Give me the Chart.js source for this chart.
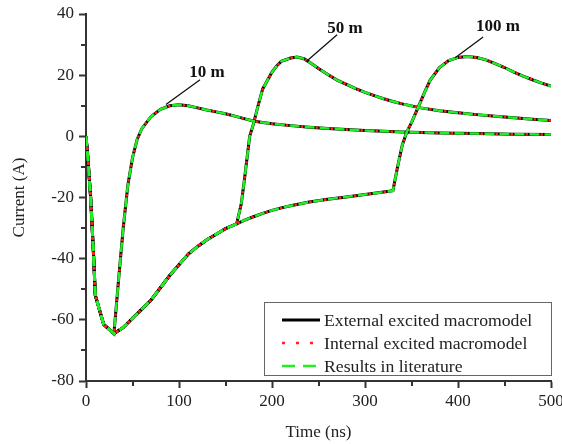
<!DOCTYPE html>
<html>
<head>
<meta charset="utf-8">
<title>Current vs time</title>
<script src="https://cdn.jsdelivr.net/npm/chart.js@4.4.0/dist/chart.umd.min.js"></script>
<style>
  html, body { margin: 0; padding: 0; background: #fff; }
  #wrap { width: 562px; height: 444px; }
</style>
</head>
<body>
<div id="wrap"><canvas id="currentChart" width="562" height="444"></canvas></div>
<script>
// Line lengths and the current waveforms (ns, A)
const time10m = [0, 2, 5, 8, 10, 19, 30, 35, 40, 45, 50, 55, 60, 70, 80, 90, 100, 110, 120, 130, 140, 150, 160, 170, 180, 190, 200, 220, 240, 260, 280, 300, 340, 380, 420, 460, 500]
const current10m = [0, -7, -20, -38, -52, -61.5, -64.5, -47, -30, -16, -7, -1, 2.5, 6.5, 8.8, 10, 10.3, 10, 9.3, 8.6, 8, 7.4, 6.6, 5.8, 5, 4.5, 4.1, 3.5, 3, 2.6, 2.2, 1.9, 1.4, 1.1, 0.9, 0.7, 0.6]

const time50m = [0, 2, 5, 8, 10, 19, 30, 40, 50, 60, 70, 80, 90, 100, 110, 120, 130, 140, 150, 162, 167, 170, 176, 180, 185, 190, 200, 205, 210, 220, 227, 235, 240, 250, 260, 270, 280, 290, 300, 310, 320, 330, 340, 360, 380, 400, 420, 440, 460, 480, 500]
const current50m = [0, -7, -20, -38, -52, -61.5, -64.5, -62.5, -59.5, -56.5, -53.5, -49.5, -45.5, -42, -38.5, -36, -33.8, -32, -30.2, -28.6, -22, -15, 0, 4, 10, 15.5, 21, 23, 24.5, 25.6, 25.9, 25.3, 24.3, 22.2, 20.2, 18.4, 17, 15.6, 14.4, 13.3, 12.3, 11.4, 10.6, 9.3, 8.4, 7.7, 7.1, 6.6, 6.1, 5.6, 5.2]

const time100m = [0, 2, 5, 8, 10, 19, 30, 40, 50, 60, 70, 80, 90, 100, 110, 120, 130, 140, 150, 162, 170, 180, 190, 200, 210, 220, 240, 260, 280, 300, 320, 330, 335, 340, 345, 350, 355, 360, 365, 370, 380, 390, 400, 410, 420, 430, 440, 450, 460, 470, 480, 490, 500]
const current100m = [0, -7, -20, -38, -52, -61.5, -64.5, -62.5, -59.5, -56.5, -53.5, -49.5, -45.5, -42, -38.5, -36, -33.8, -32, -30.2, -28.6, -27.5, -26.3, -25.2, -24.2, -23.4, -22.7, -21.5, -20.6, -19.8, -19, -18.2, -17.8, -10, -3, 1.5, 4.5, 8, 11.5, 15, 18.3, 22.5, 24.8, 25.8, 26.1, 25.8, 25, 23.8, 22.5, 21, 19.7, 18.5, 17.4, 16.4]

const seriesNames = ["External excited macromodel", "Internal excited macromodel", "Results in literature"]
const lengthLabels = ["10 m", "50 m", "100 m"]
const timeTicks = [0, 100, 200, 300, 400, 500]
const currentTicks = [-80, -60, -40, -20, 0, 20, 40]

const axisColor = "#333"
const textColor = "#222"
const serif = "'Liberation Serif', 'Times New Roman', serif"

// one style per model; the dashed green one sits on top
const styles = [
  { color: "#000000", width: 3, dash: [], offset: 0, order: 3, legendDash: [] },
  { color: "#ff2222", width: 2.5, dash: [2.5, 12.5], offset: -11, order: 2, legendDash: [3, 11] },
  { color: "#22ee22", width: 2.5, dash: [10, 5], offset: 0, order: 1, legendDash: [13, 8] },
]

const curves = [
  { t: time10m, i: current10m },
  { t: time50m, i: current50m },
  { t: time100m, i: current100m },
]

// leader-line labels, in data units
const callouts = [
  { text: lengthLabels[0], at: [130, 20.8], from: [122.6, 18.5], to: [86, 10.4] },
  { text: lengthLabels[1], at: [278.5, 35.1], from: [270, 33.2], to: [236.6, 24.4] },
  { text: lengthLabels[2], at: [443, 35.8], from: [427, 32.5], to: [397, 25.7] },
]

const datasets = []
curves.forEach((c, ci) => {
  styles.forEach((s, si) => {
    datasets.push({
      label: seriesNames[si] + " " + lengthLabels[ci],
      data: c.t.map((t, k) => ({ x: t, y: c.i[k] })),
      borderColor: s.color,
      borderWidth: s.width,
      borderDash: s.dash,
      borderDashOffset: s.offset,
      order: s.order,
      pointRadius: 0,
      tension: 0,
      fill: false,
    })
  })
})

// short ticks halfway between the labelled ones
const minorTicks = {
  id: "minorTicks",
  afterDraw(chart) {
    const { ctx, chartArea } = chart
    const x = chart.scales.x
    const y = chart.scales.y
    ctx.save()
    ctx.strokeStyle = axisColor
    ctx.lineWidth = 2
    ctx.beginPath()
    for (let k = 0; k < timeTicks.length - 1; k++) {
      const px = Math.round(x.getPixelForValue((timeTicks[k] + timeTicks[k + 1]) / 2))
      ctx.moveTo(px, chartArea.bottom)
      ctx.lineTo(px, chartArea.bottom + 5)
    }
    for (let k = 0; k < currentTicks.length - 1; k++) {
      const py = Math.round(y.getPixelForValue((currentTicks[k] + currentTicks[k + 1]) / 2))
      ctx.moveTo(chartArea.left, py)
      ctx.lineTo(chartArea.left - 5, py)
    }
    ctx.stroke()
    ctx.restore()
  },
}

const lengthCallouts = {
  id: "lengthCallouts",
  afterDatasetsDraw(chart) {
    const { ctx } = chart
    const x = chart.scales.x
    const y = chart.scales.y
    ctx.save()
    ctx.strokeStyle = "#111"
    ctx.lineWidth = 1.3
    ctx.fillStyle = "#111"
    ctx.font = "bold 17px " + serif
    ctx.textAlign = "center"
    ctx.textBaseline = "middle"
    callouts.forEach((c) => {
      ctx.beginPath()
      ctx.moveTo(x.getPixelForValue(c.from[0]), y.getPixelForValue(c.from[1]))
      ctx.lineTo(x.getPixelForValue(c.to[0]), y.getPixelForValue(c.to[1]))
      ctx.stroke()
      ctx.fillText(c.text, x.getPixelForValue(c.at[0]), y.getPixelForValue(c.at[1]))
    })
    ctx.restore()
  },
}

// boxed legend in the lower right of the plot
const legendBox = {
  id: "legendBox",
  afterDraw(chart) {
    const { ctx, chartArea } = chart
    const w = 288
    const h = 74
    const x0 = chartArea.right - w + 1
    const y0 = chartArea.bottom - 5 - h
    ctx.save()
    ctx.fillStyle = "#fff"
    ctx.fillRect(x0, y0, w, h)
    ctx.strokeStyle = "#666"
    ctx.lineWidth = 1
    ctx.strokeRect(x0 + 0.5, y0 + 0.5, w - 1, h - 1)
    styles.forEach((s, i) => {
      const ly = y0 + 18 + i * 23
      ctx.beginPath()
      ctx.setLineDash(s.legendDash)
      ctx.strokeStyle = s.color
      ctx.lineWidth = s.width
      ctx.moveTo(x0 + 18, ly)
      ctx.lineTo(x0 + 56, ly)
      ctx.stroke()
      ctx.setLineDash([])
      ctx.fillStyle = textColor
      ctx.font = "17.7px " + serif
      ctx.textAlign = "left"
      ctx.textBaseline = "middle"
      ctx.fillText(seriesNames[i], x0 + 60, ly + 1)
    })
    ctx.restore()
  },
}

new Chart(document.getElementById("currentChart"), {
  type: "line",
  data: { datasets: datasets },
  options: {
    responsive: false,
    animation: false,
    events: [],
    layout: { padding: { top: 14, right: 0, left: 0, bottom: 0 } },
    plugins: {
      legend: { display: false },
      tooltip: { enabled: false },
    },
    scales: {
      x: {
        type: "linear",
        min: 0,
        max: 500,
        afterBuildTicks: (scale) => {
          scale.ticks = timeTicks.map((v) => ({ value: v }))
        },
        afterFit: (scale) => {
          scale.height = 63
          scale.paddingLeft = 0
          scale.paddingRight = 11
        },
        grid: { drawOnChartArea: false, drawTicks: true, tickLength: 7, tickColor: axisColor, tickWidth: 2 },
        border: { display: true, color: axisColor, width: 2 },
        ticks: { color: textColor, font: { family: serif, size: 17 }, padding: 3, maxRotation: 0 },
        title: { display: true, text: "Time (ns)", color: textColor, font: { family: serif, size: 17 }, padding: { top: 0, bottom: 1 } },
      },
      y: {
        type: "linear",
        min: -80,
        max: 40,
        afterBuildTicks: (scale) => {
          scale.ticks = currentTicks.map((v) => ({ value: v }))
        },
        afterFit: (scale) => {
          scale.width = 86
          scale.paddingTop = 0
          scale.paddingBottom = 0
        },
        grid: { drawOnChartArea: false, drawTicks: true, tickLength: 7, tickColor: axisColor, tickWidth: 2 },
        border: { display: true, color: axisColor, width: 2 },
        ticks: { color: textColor, font: { family: serif, size: 17 }, padding: 5 },
        title: { display: true, text: "Current (A)", color: textColor, font: { family: serif, size: 17 }, padding: { top: 9, bottom: 0 } },
      },
    },
  },
  plugins: [minorTicks, lengthCallouts, legendBox],
})
</script>
</body>
</html>
